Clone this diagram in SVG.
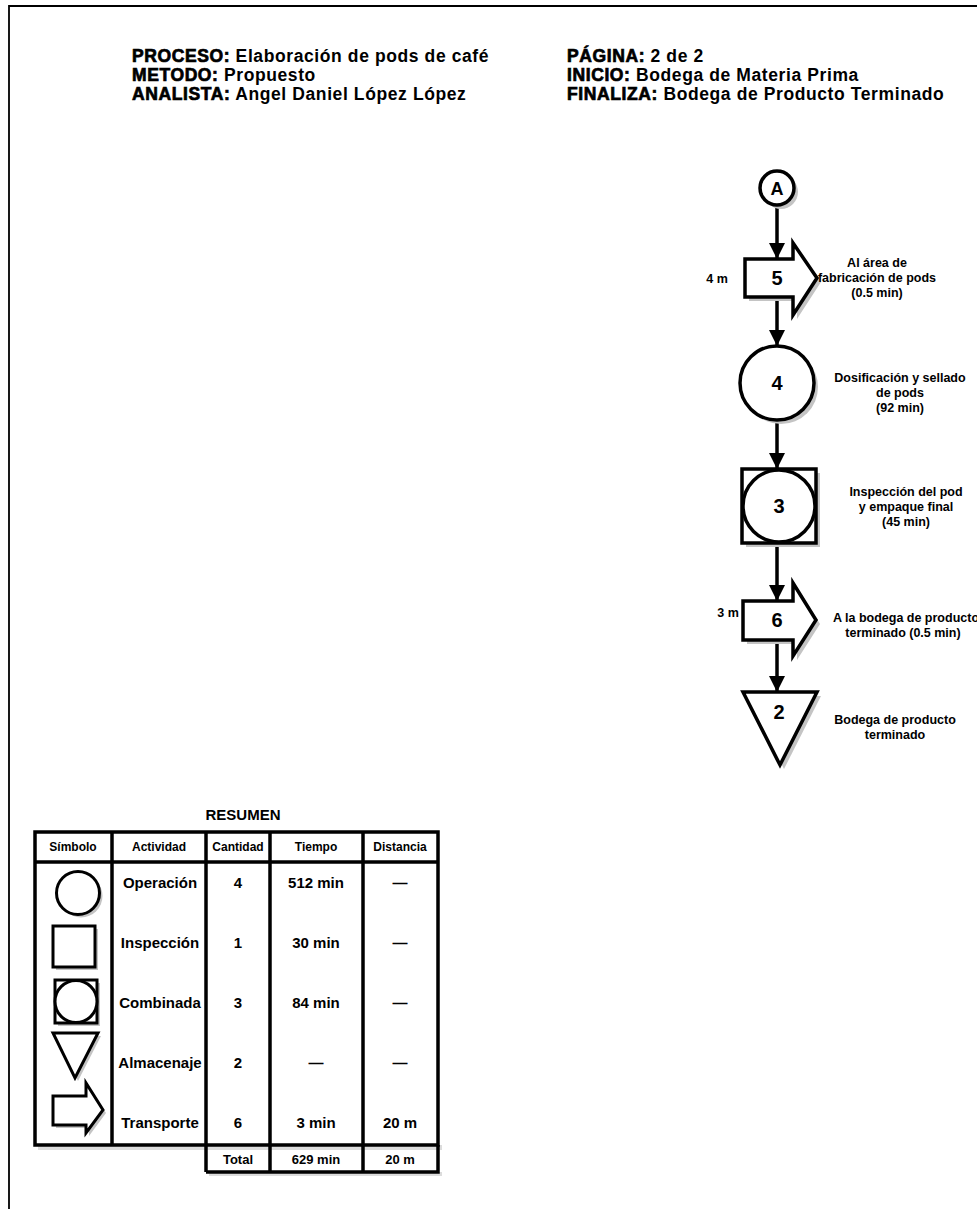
<svg xmlns="http://www.w3.org/2000/svg" width="977" height="1209" viewBox="0 0 977 1209">
<defs>
<style>
text{font-family:"Liberation Sans",Arial,sans-serif;fill:#000;font-weight:bold}
.hd{letter-spacing:0.6px}
.hk{font-size:17.5px;stroke:#000;stroke-width:0.7}
.hv{font-size:17.5px}
.shp{fill:#fff;stroke:#000;stroke-width:3.5}
.sh{fill:#c4c4c4;stroke:none}
.num{font-size:20px;text-anchor:middle}
.lbl{font-size:12.5px;text-anchor:middle}
.dist{font-size:12.5px;text-anchor:middle}
.tb{fill:none;stroke:#000;stroke-width:3.5}
.th{font-size:12px;text-anchor:middle}
.td{font-size:15px;text-anchor:middle}
.tt{font-size:13px;text-anchor:middle}
.con{stroke:#000;stroke-width:3.5;fill:none}
</style>
<marker id="ah" markerUnits="userSpaceOnUse" markerWidth="18" markerHeight="18" refX="16" refY="8" orient="auto">
<path d="M0,0 L16,8 L0,16 Z" fill="#000"/>
</marker>
</defs>
<rect x="0" y="0" width="977" height="1209" fill="#fff"/>
<path d="M9,1209 V6 H977" fill="none" stroke="#000" stroke-width="1.8"/>

<g id="header" class="hd">
<text x="132" y="62"><tspan class="hk">PROCESO:</tspan><tspan class="hv"> Elaboración de pods de café</tspan></text>
<text x="132" y="81"><tspan class="hk">METODO:</tspan><tspan class="hv">  Propuesto</tspan></text>
<text x="132" y="100"><tspan class="hk">ANALISTA:</tspan><tspan class="hv"> Angel Daniel López López</tspan></text>
<text x="567" y="62"><tspan class="hk">PÁGINA:</tspan><tspan class="hv">  2 de 2</tspan></text>
<text x="567" y="81"><tspan class="hk">INICIO:</tspan><tspan class="hv"> Bodega de Materia Prima</tspan></text>
<text x="567" y="100"><tspan class="hk">FINALIZA:</tspan><tspan class="hv"> Bodega de Producto Terminado</tspan></text>
</g>

<g id="connectors">
<line class="con" x1="777" y1="205" x2="777" y2="259" marker-end="url(#ah)"/>
<line class="con" x1="777" y1="297" x2="777" y2="346" marker-end="url(#ah)"/>
<line class="con" x1="777" y1="420" x2="777" y2="469" marker-end="url(#ah)"/>
<line class="con" x1="777" y1="543" x2="777" y2="601" marker-end="url(#ah)"/>
<line class="con" x1="777" y1="640" x2="777" y2="692" marker-end="url(#ah)"/>
</g>

<g id="nodeA">
<circle class="sh" cx="781" cy="192" r="17"/>
<circle class="shp" cx="777" cy="188" r="17"/>
<text class="num" x="777" y="195" style="font-size:18px">A</text>
</g>

<g id="node5">
<path class="sh" d="M749,263 H797 V247 L821,282 L797,319 V301 H749 Z"/>
<path class="shp" d="M745,259 H793 V243 L817,278 L793,315 V297 H745 Z"/>
<text class="num" x="777" y="285">5</text>
<text class="dist" x="717" y="283">4 m</text>
<text class="lbl" x="877" y="267">Al área de</text>
<text class="lbl" x="877" y="282">fabricación de pods</text>
<text class="lbl" x="877" y="297">(0.5 min)</text>
</g>

<g id="node4">
<circle class="sh" cx="781" cy="387" r="37"/>
<circle class="shp" cx="777" cy="383" r="37"/>
<text class="num" x="777" y="390">4</text>
<text class="lbl" x="900" y="382">Dosificación y sellado</text>
<text class="lbl" x="900" y="397">de pods</text>
<text class="lbl" x="900" y="412">(92 min)</text>
</g>

<g id="node3">
<rect class="sh" x="746" y="473" width="74" height="74"/>
<rect class="shp" x="742" y="469" width="74" height="74"/>
<circle class="shp" cx="779" cy="506" r="36"/>
<text class="num" x="779" y="513">3</text>
<text class="lbl" x="906" y="496">Inspección del pod</text>
<text class="lbl" x="906" y="511">y empaque final</text>
<text class="lbl" x="906" y="526">(45 min)</text>
</g>

<g id="node6">
<path class="sh" d="M747,605 H797 V587 L820,624 L797,660 V644 H747 Z"/>
<path class="shp" d="M743,601 H793 V583 L816,620 L793,656 V640 H743 Z"/>
<text class="num" x="777" y="627">6</text>
<text class="dist" x="728" y="617">3 m</text>
<text class="lbl" x="906" y="622">A la bodega de producto</text>
<text class="lbl" x="903" y="637">terminado (0.5 min)</text>
</g>

<g id="node2">
<path class="sh" d="M747,696 H821 L784,769 Z"/>
<path class="shp" d="M743,692 H817 L780,765 Z"/>
<text class="num" x="779" y="719">2</text>
<text class="lbl" x="895" y="724">Bodega de producto</text>
<text class="lbl" x="895" y="739">terminado</text>
</g>

<g id="resumen">
<text x="243" y="820" style="font-size:15px;text-anchor:middle">RESUMEN</text>
<rect x="38" y="1145" width="404" height="5" fill="#dcdcdc"/>
<rect x="209" y="1172" width="233" height="4" fill="#dcdcdc"/>
<rect class="tb" x="35" y="832" width="403" height="313"/>
<line class="tb" x1="35" y1="862" x2="438" y2="862"/>
<line class="tb" x1="112" y1="832" x2="112" y2="1145"/>
<line class="tb" x1="206" y1="832" x2="206" y2="1172"/>
<line class="tb" x1="270" y1="832" x2="270" y2="1172"/>
<line class="tb" x1="363" y1="832" x2="363" y2="1172"/>
<path class="tb" d="M206,1172 H438 V1145"/>
<text class="th" x="73" y="851">Símbolo</text>
<text class="th" x="159" y="851">Actividad</text>
<text class="th" x="238" y="851">Cantidad</text>
<text class="th" x="316" y="851">Tiempo</text>
<text class="th" x="400" y="851">Distancia</text>

<circle class="sh" cx="81" cy="896" r="21.5"/>
<circle class="shp" cx="78" cy="893" r="21.5" style="stroke-width:3"/>
<rect class="sh" x="56" y="929" width="42" height="41"/>
<rect class="shp" x="53" y="926" width="42" height="41" style="stroke-width:3"/>
<rect class="sh" x="58" y="983" width="42" height="43"/>
<rect class="shp" x="55" y="980" width="42" height="43" style="stroke-width:3"/>
<circle class="shp" cx="76" cy="1001.5" r="21" style="stroke-width:3"/>
<path class="sh" d="M56,1036 H101 L78,1081 Z"/>
<path class="shp" d="M53,1033 H98 L75,1078 Z" style="stroke-width:3"/>
<path class="sh" d="M56,1099 H89 V1086 L106,1113 L89,1136 V1128 H56 Z"/>
<path class="shp" d="M53,1096 H86 V1083 L103,1110 L86,1133 V1125 H53 Z" style="stroke-width:3"/>

<text class="td" x="160" y="888">Operación</text>
<text class="td" x="160" y="948">Inspección</text>
<text class="td" x="160" y="1008">Combinada</text>
<text class="td" x="160" y="1068">Almacenaje</text>
<text class="td" x="160" y="1128">Transporte</text>

<text class="td" x="238" y="888">4</text>
<text class="td" x="238" y="948">1</text>
<text class="td" x="238" y="1008">3</text>
<text class="td" x="238" y="1068">2</text>
<text class="td" x="238" y="1128">6</text>

<text class="td" x="316" y="888">512 min</text>
<text class="td" x="316" y="948">30 min</text>
<text class="td" x="316" y="1008">84 min</text>
<text class="td" x="316" y="1068">—</text>
<text class="td" x="316" y="1128">3 min</text>

<text class="td" x="400" y="888">—</text>
<text class="td" x="400" y="948">—</text>
<text class="td" x="400" y="1008">—</text>
<text class="td" x="400" y="1068">—</text>
<text class="td" x="400" y="1128">20 m</text>

<text class="tt" x="238" y="1164">Total</text>
<text class="tt" x="316" y="1164">629 min</text>
<text class="tt" x="400" y="1164">20 m</text>
</g>
</svg>
